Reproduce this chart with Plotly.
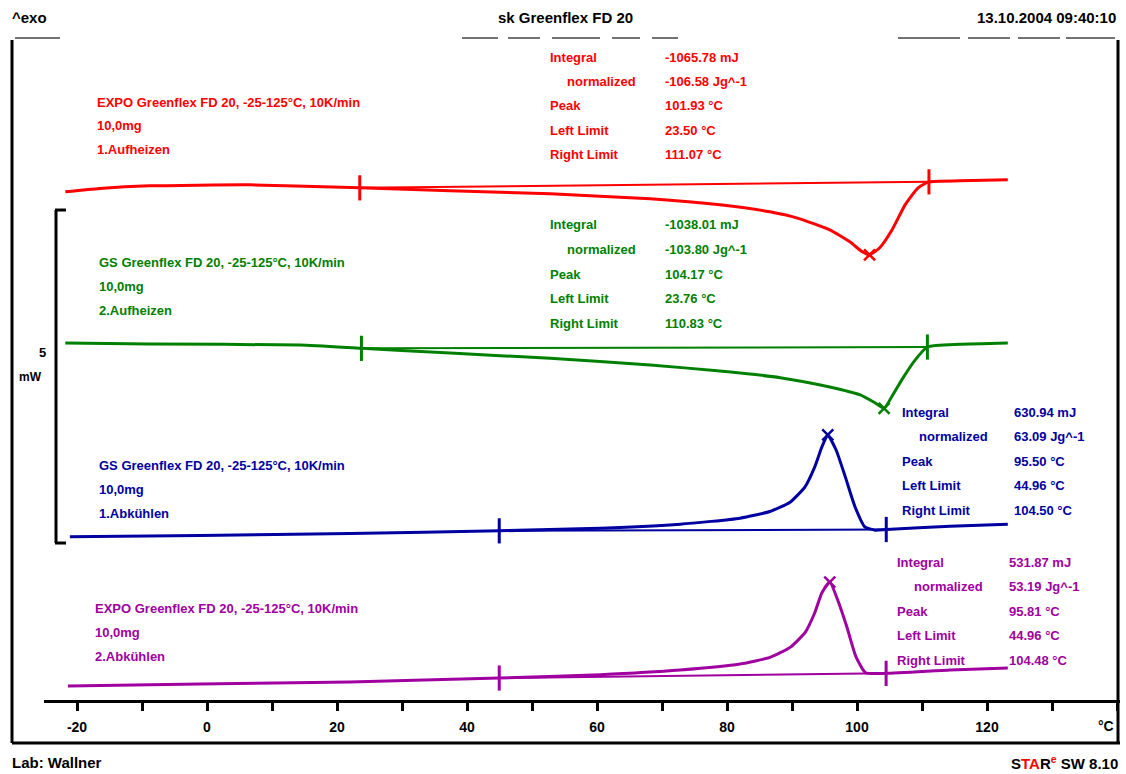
import numpy as np
import plotly.graph_objects as go

# ---- DSC curves: temperature (°C) and heat flow relative to curve start (mW) ----
temp_heat1 = [-21.8, -16.5, -8.8, 6.6, 23.5, 37.4, 52.8, 68.2, 78.9, 86.6, 91.2, 95.8,
              98.9, 100.8, 101.93, 103.5, 105.4, 107.4, 109.4, 111.07, 115.8, 123.2]
flow_heat1 = [0, 0.05, 0.09, 0.105, 0.06, 0.015, -0.03, -0.105, -0.195, -0.30, -0.405, -0.57,
              -0.75, -0.90, -0.945, -0.84, -0.57, -0.195, 0.06, 0.15, 0.165, 0.18]

temp_heat2 = [-21.8, -8.8, 14.3, 23.76, 37.4, 52.8, 68.2, 78.9, 88.2, 95.8, 100.5, 102.8,
              104.17, 105.5, 107.1, 108.9, 110.83, 115.8, 123.2]
flow_heat2 = [0, -0.015, -0.03, -0.08, -0.15, -0.23, -0.33, -0.42, -0.52, -0.66, -0.78, -0.90,
              -0.98, -0.78, -0.52, -0.26, -0.06, -0.02, 0.0]

temp_cool1 = [-21.1, -1.1, 22.0, 44.96, 60.5, 72.8, 82.0, 86.6, 89.7, 92.0, 93.5, 94.6,
              95.5, 96.8, 98.2, 99.7, 101.2, 102.8, 104.5, 114.3, 123.2]
flow_cool1 = [0, 0.02, 0.05, 0.09, 0.13, 0.19, 0.28, 0.38, 0.52, 0.75, 1.05, 1.35,
              1.53, 1.30, 0.90, 0.45, 0.15, 0.10, 0.11, 0.16, 0.19]

temp_cool2 = [-21.4, -1.1, 22.0, 44.96, 60.5, 72.8, 82.0, 86.6, 89.7, 92.0, 93.5, 94.6,
              95.81, 97.0, 98.4, 99.8, 101.3, 104.48, 114.3, 123.2]
flow_cool2 = [0, 0.03, 0.06, 0.12, 0.17, 0.24, 0.33, 0.43, 0.58, 0.80, 1.10, 1.40,
              1.56, 1.30, 0.90, 0.45, 0.20, 0.19, 0.24, 0.27]

# vertical stacking offsets of the four curves (mW)
curve_offsets = [7.63, 5.36, 2.45, 0.21]
curve_colors = ["#ff0000", "#008000", "#0000a0", "#a000a0"]

sample_names = ["EXPO Greenflex FD 20, -25-125°C, 10K/min",
                "GS Greenflex FD 20, -25-125°C, 10K/min",
                "GS Greenflex FD 20, -25-125°C, 10K/min",
                "EXPO Greenflex FD 20, -25-125°C, 10K/min"]
sample_mass = ["10,0mg", "10,0mg", "10,0mg", "10,0mg"]
segment_names = ["1.Aufheizen", "2.Aufheizen", "1.Abkühlen", "2.Abkühlen"]

# peak evaluation results
integral_mj = [-1065.78, -1038.01, 630.94, 531.87]
normalized_jg = [-106.58, -103.80, 63.09, 53.19]
peak_c = [101.93, 104.17, 95.50, 95.81]
left_limit_c = [23.50, 23.76, 44.96, 44.96]
right_limit_c = [111.07, 110.83, 104.50, 104.48]

x_ticks = [-20, 0, 20, 40, 60, 80, 100, 120]

# ---- layout geometry (pixels) ----
W, H = 1126, 774
ML, MR, MT, MB = 44, 6, 40, 74
PW, PH = W - ML - MR, H - MT - MB
PX_PER_C = 6.5
PX_PER_MW = 66.6
X0_PX = 207  # pixel column of 0 °C


def fx(p):
    return (p - ML) / PW


def fy(p):
    return (H - MB - p) / PH


x_range = [(ML - X0_PX) / PX_PER_C, (W - MR - X0_PX) / PX_PER_C]
y_range = [0, PH / PX_PER_MW]

fig = go.Figure()

series = [(temp_heat1, flow_heat1), (temp_heat2, flow_heat2),
          (temp_cool1, flow_cool1), (temp_cool2, flow_cool2)]

for i, (t, f) in enumerate(series):
    t = np.array(t)
    y = np.array(f) + curve_offsets[i]
    c = curve_colors[i]
    fig.add_trace(go.Scatter(x=t, y=y, mode="lines",
                             line=dict(color=c, width=3, shape="spline", smoothing=0.5),
                             hoverinfo="skip", showlegend=False))
    # integration baseline between limits
    yl = np.interp(left_limit_c[i], t, y)
    yr = np.interp(right_limit_c[i], t, y)
    fig.add_trace(go.Scatter(x=[left_limit_c[i], right_limit_c[i]], y=[yl, yr], mode="lines",
                             line=dict(color=c, width=2), hoverinfo="skip", showlegend=False))
    # limit markers
    fig.add_trace(go.Scatter(x=[left_limit_c[i], right_limit_c[i]], y=[yl, yr], mode="markers",
                             marker=dict(symbol="line-ns", size=18, line=dict(color=c, width=3)),
                             hoverinfo="skip", showlegend=False))
    # peak marker
    yp = np.interp(peak_c[i], t, y)
    fig.add_trace(go.Scatter(x=[peak_c[i]], y=[yp], mode="markers",
                             marker=dict(symbol="x-thin", size=11, line=dict(color=c, width=2.5)),
                             hoverinfo="skip", showlegend=False))

FONT = "Liberation Sans, Arial, sans-serif"
ann = []


def txt(text, xp, yp, color="black", size=14, xanchor="left"):
    ann.append(dict(text="<b>" + text + "</b>", x=fx(xp), y=fy(yp), xref="paper", yref="paper",
                    xanchor=xanchor, yanchor="middle", showarrow=False,
                    font=dict(family=FONT, size=size, color=color)))


# sample descriptions
desc_pos = [(95, 102), (97, 262), (97, 465), (93, 608)]
for i, (xp, yp) in enumerate(desc_pos):
    c = curve_colors[i]
    txt(sample_names[i], xp, yp, c, 13)
    txt(sample_mass[i], xp, yp + 24, c, 13)
    txt(segment_names[i], xp, yp + 48, c, 13)

# evaluation blocks
stat_pos = [(548, 663, 57), (548, 663, 225), (900, 1012, 412), (895, 1007, 562)]
for i, (xl, xv, yt) in enumerate(stat_pos):
    c = curve_colors[i]
    rows = [("Integral", f"{integral_mj[i]:.2f} mJ", 0),
            ("normalized", f"{normalized_jg[i]:.2f} Jg^-1", 17),
            ("Peak", f"{peak_c[i]:.2f} °C", 0),
            ("Left Limit", f"{left_limit_c[i]:.2f} °C", 0),
            ("Right Limit", f"{right_limit_c[i]:.2f} °C", 0)]
    for k, (lab, val, ind) in enumerate(rows):
        yy = yt + k * 24.5
        txt(lab, xl + ind, yy, c, 13)
        txt(val, xv, yy, c, 13)

# header / footer
txt("^exo", 10, 18, size=15)
txt("sk Greenflex FD 20", 565, 18, size=15, xanchor="center")
txt("13.10.2004 09:40:10", 1118, 18, size=15, xanchor="right")
txt("Lab: Wallner", 10, 762, size=15)
ann.append(dict(text="<b>S<span style='color:#ff0000'>TA</span>R<sup><span style='color:#ff0000'>e</span></sup> SW 8.10</b>",
                x=fx(1120), y=fy(762), xref="paper", yref="paper", xanchor="right", yanchor="middle",
                showarrow=False, font=dict(family=FONT, size=15, color="black")))
txt("°C", 1116, 726, size=14, xanchor="right")
# scale bar label
txt("5", 42, 352, size=13, xanchor="center")
txt("mW", 30, 377, size=12, xanchor="center")

shapes = []


def seg(x0, y0, x1, y1, w=3, color="black"):
    shapes.append(dict(type="line", xref="paper", yref="paper", x0=fx(x0), y0=fy(y0),
                       x1=fx(x1), y1=fy(y1), line=dict(color=color, width=w)))


# outer frame
seg(12, 40, 12, 743)
seg(1118, 40, 1118, 743)
seg(12, 743, 1120, 743)
# clipped header second row
for a, b in [(15, 60), (462, 498), (508, 540), (552, 600), (612, 640), (652, 678),
             (898, 960), (968, 1010), (1018, 1060), (1066, 1115)]:
    seg(a, 38, b, 38, w=1.5, color="#444444")

# 5 mW scale bar
bar_bottom = 2.357
shapes.append(dict(type="line", xref="paper", yref="y", x0=fx(56), x1=fx(56),
                   y0=bar_bottom, y1=bar_bottom + 5, line=dict(color="black", width=3)))
for yb in (bar_bottom, bar_bottom + 5):
    shapes.append(dict(type="line", xref="paper", yref="y", x0=fx(55), x1=fx(66),
                       y0=yb, y1=yb, line=dict(color="black", width=3)))

fig.update_layout(
    width=W, height=H, margin=dict(l=ML, r=MR, t=MT, b=MB),
    paper_bgcolor="white", plot_bgcolor="white",
    annotations=ann, shapes=shapes, showlegend=False,
    xaxis=dict(range=x_range, tickmode="array", tickvals=x_ticks,
               ticktext=[f"<b>{v}</b>" for v in x_ticks],
               ticks="outside", ticklen=8, tickwidth=3,
               tickcolor="black", showline=True, linecolor="black", linewidth=3,
               showgrid=False, zeroline=False,
               minor=dict(dtick=10, tick0=0, ticks="outside", ticklen=8, tickwidth=3,
                          tickcolor="black", showgrid=False),
               tickfont=dict(family=FONT, size=14, color="black"),
               ticklabelstandoff=4),
    yaxis=dict(range=y_range, visible=False, showgrid=False, zeroline=False),
)

fig.write_html("out.html")
